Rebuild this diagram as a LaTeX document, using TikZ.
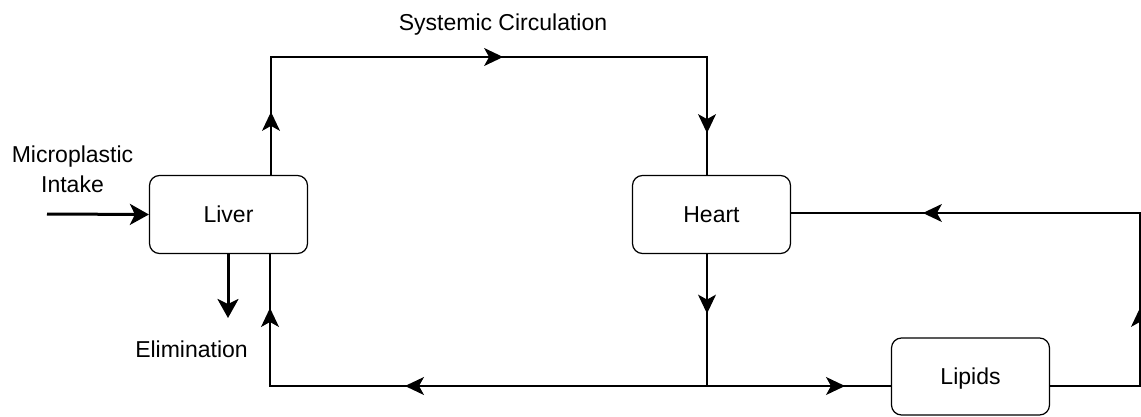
\documentclass[tikz,border=0pt]{standalone}
\usepackage{fontspec}
\setmainfont{Liberation Sans}
\usetikzlibrary{arrows.meta,decorations.markings}

\tikzset{
  flowtip/.tip={Stealth[length=19pt,width=18pt,inset=5pt]},
  bigtip/.tip={Stealth[length=19pt,width=21pt,inset=5pt]},
}

\begin{document}
\begin{tikzpicture}[x=1pt,y=1pt,
  organ/.style={draw=black, line width=1.2pt, rounded corners=10pt,
    minimum width=158pt, minimum height=78pt, inner sep=0pt,
    text height=16.5pt, text depth=0pt, font=\fontsize{23}{28}\selectfont},
  caption/.style={inner sep=0pt, font=\fontsize{23}{30}\selectfont},
  link/.style={draw=black, line width=1.2pt},
  heavy/.style={draw=black, line width=3pt, -bigtip},
  arrowat/.style={postaction={decorate,
    decoration={markings, mark=at position #1 with {\arrow{flowtip}}}}},
]
% canvas
\useasboundingbox (0,0) rectangle (1141,416);

% organs
\node[organ] (liver)  at (228.5,201.5) {Liver};
\node[organ] (heart)  at (711.5,201.5) {Heart};
\node[organ, minimum height=77pt] (lipids) at (970.5,39.5) {Lipids};

% route corners
\coordinate (topL)  at (271,359);
\coordinate (topR)  at (707,359);
\coordinate (hub)   at (707,30);
\coordinate (botL)  at (270,30);
\coordinate (farB)  at (1140,30);
\coordinate (farT)  at (1140,203);
\coordinate (src)   at (47,202);
\coordinate (sink)  at (228,98);

% systemic loop: liver -> heart
\draw[link, arrowat=63pt, arrowat=350pt, arrowat=630pt]
  ([xshift=42.5pt]liver.north) -- (topL) -- (topR) -- ([xshift=-4.5pt]heart.north);

% heart -> junction
\draw[link, arrowat=59.5pt] ([xshift=-4.5pt]heart.south) -- (hub);

% junction -> liver
\draw[link, arrowat=302pt, arrowat=515pt]
  (hub) -- (botL) -- ([xshift=41.5pt]liver.south);

% junction -> lipids
\draw[link, arrowat=138pt] (hub) -- ([yshift=-9.5pt]lipids.west);

% lipids -> heart
\draw[link, arrowat=168pt, arrowat=480pt]
  ([yshift=-9.5pt]lipids.east) -- (farB) -- (farT) -- ([yshift=1.5pt]heart.east);

% intake and elimination
\draw[heavy] (src) -- (liver.west);
\draw[heavy] ([xshift=-0.5pt]liver.south) -- (sink);

% labels
\node[caption, anchor=base] (sys) at (503,385) {Systemic Circulation};
\node[caption, anchor=north, align=center] (intake) at (72.5,270.5) {Microplastic\\Intake};
\node[caption, anchor=base] (elim) at (191.5,59) {Elimination};
\end{tikzpicture}
\end{document}
